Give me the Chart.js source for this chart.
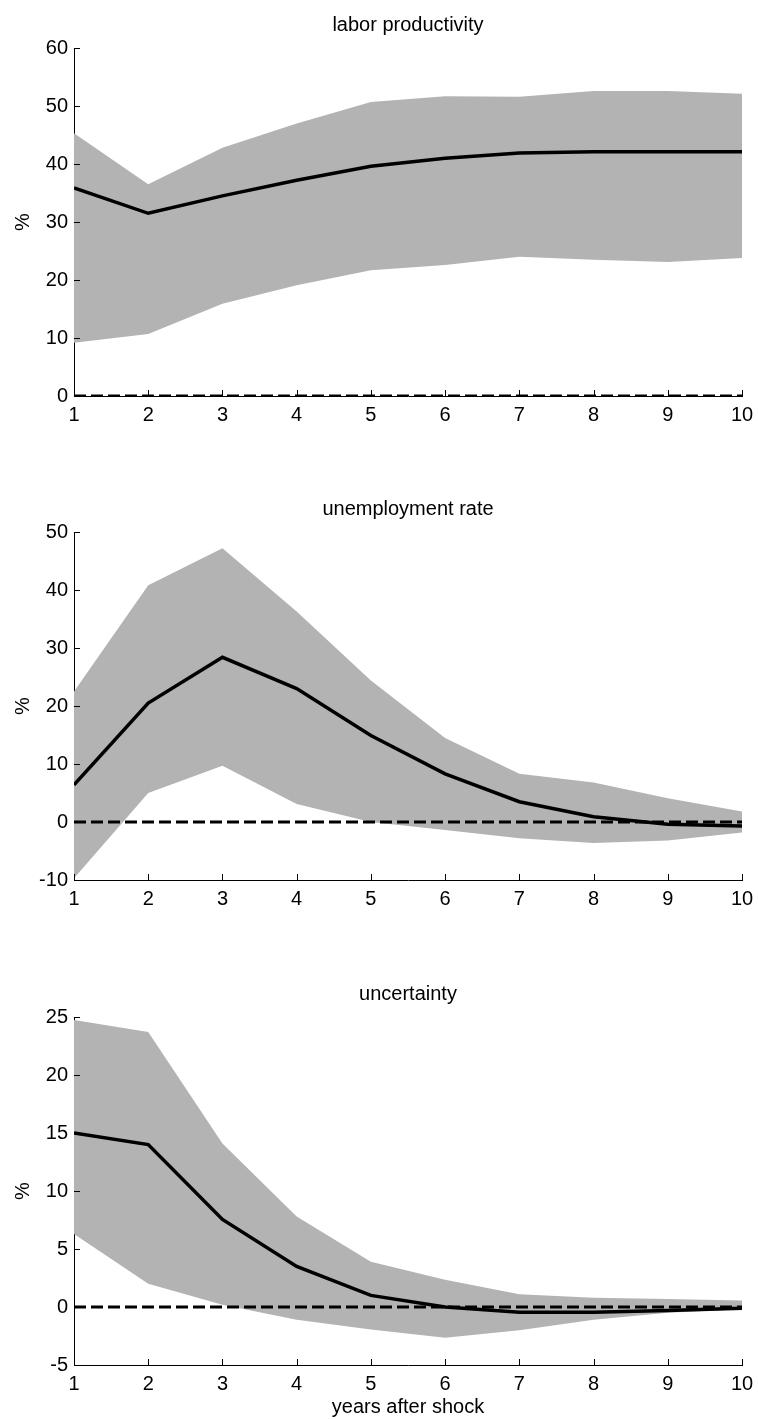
<!DOCTYPE html>
<html>
<head>
<meta charset="utf-8">
<script src="https://cdn.jsdelivr.net/npm/chart.js@4/dist/chart.umd.min.js"></script>
<style>
  body { margin: 0; background: #fff; }
  .panel { position: absolute; left: 0; }
</style>
</head>
<body>
<div class="panel" style="top:0px"><canvas id="c1" width="758" height="440"></canvas></div>
<div class="panel" style="top:484px"><canvas id="c2" width="758" height="440"></canvas></div>
<div class="panel" style="top:969px"><canvas id="c3" width="758" height="450"></canvas></div>
<script>
// años tras el shock
const YEARS = [1, 2, 3, 4, 5, 6, 7, 8, 9, 10];

// productividad laboral
const PROD_MEAN = [35.9, 31.5, 34.5, 37.2, 39.6, 41.0, 41.9, 42.1, 42.1, 42.1];
const PROD_HI   = [45.3, 36.5, 42.8, 47.0, 50.7, 51.7, 51.6, 52.6, 52.6, 52.1];
const PROD_LO   = [9.2, 10.7, 15.9, 19.1, 21.7, 22.6, 24.0, 23.5, 23.1, 23.8];

// tasa de desempleo
const UNEMP_MEAN = [6.4, 20.5, 28.4, 23.0, 14.9, 8.3, 3.5, 0.9, -0.4, -0.7];
const UNEMP_HI   = [22.5, 40.8, 47.2, 36.3, 24.4, 14.5, 8.3, 6.8, 4.1, 1.8];
const UNEMP_LO   = [-9.7, 5.0, 9.7, 3.1, 0.0, -1.4, -2.8, -3.6, -3.2, -1.8];

// incertidumbre
const UNC_MEAN = [15.0, 14.0, 7.55, 3.5, 1.0, 0.0, -0.45, -0.45, -0.3, -0.1];
const UNC_HI   = [24.75, 23.7, 14.1, 7.8, 3.9, 2.35, 1.1, 0.8, 0.7, 0.55];
const UNC_LO   = [6.3, 2.0, 0.2, -1.1, -1.95, -2.65, -2.0, -1.1, -0.5, -0.2];

const ZERO = [0, 0, 0, 0, 0, 0, 0, 0, 0, 0];

// ejes
const PROD_Y = { min: 0, max: 60, step: 10 };
const UNEMP_Y = { min: -10, max: 50, step: 10 };
const UNC_Y = { min: -5, max: 25, step: 5 };

const FONT = 'Liberation Sans, Arial, sans-serif';

// marcas de los ejes hacia dentro (estilo matlab)
const inwardTicks = {
    id: 'inwardTicks',
    afterDraw(chart) {
        const { ctx, chartArea, scales } = chart;
        ctx.save();
        ctx.strokeStyle = '#000';
        ctx.lineWidth = 1;
        ctx.beginPath();
        scales.x.ticks.forEach(t => {
            const x = Math.round(scales.x.getPixelForValue(t.value)) + 0.5;
            ctx.moveTo(x, chartArea.bottom);
            ctx.lineTo(x, chartArea.bottom - 6);
        });
        scales.y.ticks.forEach(t => {
            const y = Math.round(scales.y.getPixelForValue(t.value)) + 0.5;
            ctx.moveTo(chartArea.left, y);
            ctx.lineTo(chartArea.left + 6, y);
        });
        ctx.stroke();
        ctx.restore();
    }
};

function buildPanel(id, title, mean, lo, hi, yr, xTitle) {
    const canvas = document.getElementById(id);
    const xHeight = canvas.height - 396;
    return new Chart(canvas.getContext('2d'), {
        type: 'line',
        data: {
            labels: YEARS,
            datasets: [
                {
                    data: lo.map((v, i) => ({ x: YEARS[i], y: v })),
                    borderWidth: 0,
                    pointRadius: 0,
                    fill: false,
                    order: 3
                },
                {
                    data: hi.map((v, i) => ({ x: YEARS[i], y: v })),
                    borderWidth: 0,
                    pointRadius: 0,
                    backgroundColor: '#b3b3b3',
                    fill: '-1',
                    order: 2
                },
                {
                    data: mean.map((v, i) => ({ x: YEARS[i], y: v })),
                    borderColor: '#000',
                    borderWidth: 3.5,
                    pointRadius: 0,
                    fill: false,
                    order: 1
                },
                {
                    data: ZERO.map((v, i) => ({ x: YEARS[i], y: v })),
                    borderColor: '#000',
                    borderWidth: 3,
                    borderDash: [12, 5],
                    pointRadius: 0,
                    fill: false,
                    order: 0
                }
            ]
        },
        options: {
            responsive: false,
            animation: false,
            layout: { padding: { left: 0, right: 16, top: 0, bottom: 0 } },
            plugins: {
                legend: { display: false },
                tooltip: { enabled: false },
                title: {
                    display: true,
                    text: title,
                    fullSize: false,
                    color: '#000',
                    font: { family: FONT, size: 20, weight: 'normal' },
                    padding: { top: 13, bottom: 11 }
                }
            },
            scales: {
                x: {
                    type: 'linear',
                    min: 1,
                    max: 10,
                    afterFit: s => {
                        s.height = xHeight;
                        s.paddingLeft = 0;
                        s.paddingRight = 0;
                    },
                    grid: { display: false, drawTicks: false },
                    border: { display: true, color: '#000', width: 1 },
                    ticks: {
                        stepSize: 1,
                        color: '#000',
                        padding: 7,
                        font: { family: FONT, size: 20 }
                    },
                    title: {
                        display: !!xTitle,
                        text: xTitle || '',
                        color: '#000',
                        font: { family: FONT, size: 20 },
                        padding: { top: 0, bottom: 0 }
                    }
                },
                y: {
                    min: yr.min,
                    max: yr.max,
                    afterFit: s => { s.width = 74; },
                    grid: { display: false, drawTicks: false },
                    border: { display: true, color: '#000', width: 1 },
                    ticks: {
                        stepSize: yr.step,
                        color: '#000',
                        padding: 6,
                        font: { family: FONT, size: 20 }
                    },
                    title: {
                        display: true,
                        text: '%',
                        color: '#000',
                        font: { family: FONT, size: 20 },
                        padding: { top: 11, bottom: 0 }
                    }
                }
            }
        },
        plugins: [inwardTicks]
    });
}

buildPanel('c1', 'labor productivity', PROD_MEAN, PROD_LO, PROD_HI, PROD_Y);
buildPanel('c2', 'unemployment rate', UNEMP_MEAN, UNEMP_LO, UNEMP_HI, UNEMP_Y);
buildPanel('c3', 'uncertainty', UNC_MEAN, UNC_LO, UNC_HI, UNC_Y, 'years after shock');
</script>
</body>
</html>
